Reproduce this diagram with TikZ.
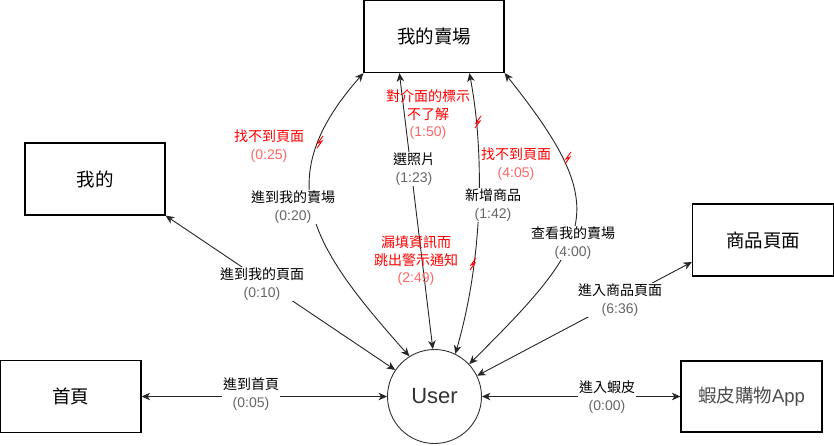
\documentclass[tikz,border=0pt]{standalone}
\usepackage{fontspec}
\setmainfont{Liberation Sans}
\newfontfamily\cjk{Noto Sans CJK TC}
\usetikzlibrary{arrows.meta,calc}
\begin{document}
\begin{tikzpicture}[x=1pt,y=-1pt,
  box/.style={draw=black, line width=1.2pt, minimum width=140pt, minimum height=72pt, inner sep=0pt, font=\fontsize{18.5}{22}\selectfont\cjk},
  link/.style={draw=black!85, line width=0.9pt, {Stealth[length=8.5pt,width=7.5pt,inset=2.5pt]}-{Stealth[length=8.5pt,width=7.5pt,inset=2.5pt]}},
  lbl/.style={fill=white, inner sep=1pt, align=center, font=\fontsize{14}{18}\selectfont},
  rlbl/.style={inner sep=0pt, align=center, font=\fontsize{14}{17.5}\selectfont, text=red},
  zz/.style={draw=red, line width=0.9pt, line join=miter},
  zig/.pic={\draw[zz] (-3,6) -- (2,-1) -- (-2,1) -- (3,-6);}
]
\useasboundingbox (0,0) rectangle (834,445);

% nodes
\node[box] (top) at (434,36.5) {我的賣場};
\node[box] (mine) at (95,179) {我的};
\node[box, minimum width=141pt] (home) at (70.5,396.5) {首頁};
\node[box, minimum width=141pt] (prod) at (763,240) {商品頁面};
\node[box, minimum width=141pt, minimum height=71pt, text=black!70, font=\fontsize{18.5}{22}\selectfont] (app) at (751.5,396.5) {{\cjk 蝦皮購物}App};
\node[circle, draw=black!80, line width=0.9pt, minimum size=94pt, inner sep=0pt, font=\fontsize{22}{26}\selectfont, text=black!80] (user) at (434.5,396.5) {User};

% connectors
\draw[link] (home) -- (user);
\draw[link] (user) -- (app);
\draw[link] (mine.south east) -- (user.146);
\draw[link] (top.south west) .. controls (269,180) and (310,245) .. (user.122);
\draw[link] ([xshift=36pt]top.south west) -- (user.92);
\draw[link] ([xshift=106pt]top.south west) .. controls (484,150) and (484,255) .. (user.64);
\draw[link] (top.south east) .. controls (613,209) and (595,239) .. (user.43);
\draw[link] (user.26) -- ([yshift=-22pt]prod.west);

% red marks
\pic at (320,142) {zig};
\pic at (478,122) {zig};
\pic at (473,264) {zig};
\pic at (568,158) {zig};

% labels
\node[lbl] (l1) at (251,394) {{\cjk 進到首頁}\\\textcolor{black!60}{(0:05)}};
\node[lbl] (l2) at (607,397) {{\cjk 進入蝦皮}\\\textcolor{black!60}{(0:00)}};
\node[lbl] (l3) at (262,284) {{\cjk 進到我的頁面}\\\textcolor{black!60}{(0:10)}};
\node[lbl] (l4) at (293,207) {{\cjk 進到我的賣場}\\\textcolor{black!60}{(0:20)}};
\node[lbl] (l5) at (414,169) {{\cjk 選照片}\\\textcolor{black!60}{(1:23)}};
\node[lbl] (l6) at (493,205) {{\cjk 新增商品}\\\textcolor{black!60}{(1:42)}};
\node[lbl] (l7) at (573,243) {{\cjk 查看我的賣場}\\\textcolor{black!60}{(4:00)}};
\node[lbl] (l8) at (620,300) {{\cjk 進入商品頁面}\\\textcolor{black!60}{(6:36)}};

\node[rlbl] (r1) at (269,146) {{\cjk 找不到頁面}\\\textcolor{red!60}{(0:25)}};
\node[rlbl] (r2) at (428,115) {{\cjk 對介面的標示}\\{\cjk 不了解}\\\textcolor{red!60}{(1:50)}};
\node[rlbl] (r3) at (416,261) {{\cjk 漏填資訊而}\\{\cjk 跳出警示通知}\\\textcolor{red!60}{(2:49)}};
\node[rlbl] (r4) at (516,164) {{\cjk 找不到頁面}\\\textcolor{red!60}{(4:05)}};
\end{tikzpicture}
\end{document}
